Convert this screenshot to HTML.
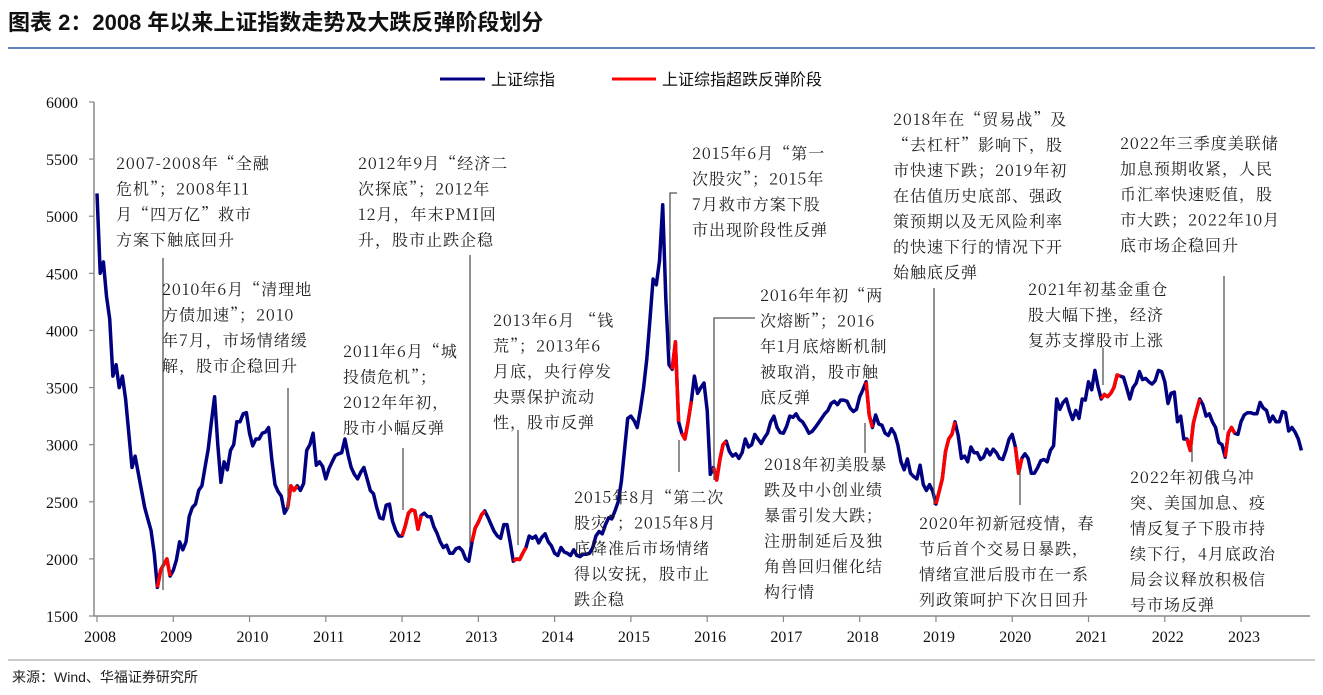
<!DOCTYPE html>
<html><head><meta charset="utf-8">
<style>
html,body{margin:0;padding:0;background:#fff;}
body{width:1323px;height:695px;overflow:hidden;position:relative;font-family:"Liberation Serif","Noto Serif CJK SC",serif;}
svg{position:absolute;left:0;top:0;}
</style></head>
<body>
<svg id="chart" width="1323" height="695">
  <text x="8" y="30" font-size="22" font-weight="bold" fill="#111" font-family="'Liberation Sans','Noto Sans CJK SC',sans-serif">图表 2：2008 年以来上证指数走势及大跌反弹阶段划分</text>
  <line x1="8" y1="48" x2="1315" y2="48" stroke="#2a5caa" stroke-width="1.5"/>
  <g font-family="'Liberation Sans','Noto Sans CJK SC',sans-serif" font-size="16" fill="#111">
    <line x1="440" y1="79" x2="485" y2="79" stroke="#000080" stroke-width="3"/>
    <text x="491" y="85">上证综指</text>
    <line x1="612" y1="79" x2="656" y2="79" stroke="#ff0000" stroke-width="3"/>
    <text x="662" y="85">上证综指超跌反弹阶段</text>
  </g>
  <g id="axes"></g>
  <g id="series"></g>
  <g id="annot" font-size="16" fill="#222" font-family="'Noto Serif CJK SC','Liberation Serif',serif" letter-spacing="1"></g>
  <line x1="8" y1="660" x2="1315" y2="660" stroke="#999" stroke-width="1"/>
  <text x="12" y="682" font-size="14" fill="#222" font-family="'Liberation Sans','Noto Sans CJK SC',sans-serif">来源：Wind、华福证券研究所</text>
</svg>
<script>
const startYear = 2008;
const stepPerYear = 24;
const yTicks = [1500,2000,2500,3000,3500,4000,4500,5000,5500,6000];
const xYears = [2008,2009,2010,2011,2012,2013,2014,2015,2016,2017,2018,2019,2020,2021,2022,2023];
const values = [
5200,4500,4600,4300,4100,3600,3700,3500,3600,3400,3100,2800,2900,2750,2600,2450,2350,2250,2050,1750,1900,1950,2000,1850,
1900,1990,2150,2080,2150,2370,2450,2480,2600,2640,2800,2960,3200,3420,3000,2670,2850,2780,2950,3000,3200,3200,3270,3280,
3100,2990,3050,3050,3100,3110,3150,2870,2650,2590,2550,2400,2450,2640,2600,2640,2600,2660,2950,3000,3100,2820,2850,2810,
2700,2790,2850,2905,2920,2930,3050,2910,2800,2740,2700,2760,2800,2700,2600,2570,2450,2360,2350,2470,2480,2330,2250,2200,
2200,2290,2400,2430,2420,2260,2380,2400,2370,2370,2280,2225,2150,2100,2120,2050,2050,2090,2100,2070,2000,1980,2150,2270,
2320,2385,2420,2365,2300,2240,2200,2180,2300,2300,2150,1980,2000,1995,2050,2100,2200,2180,2200,2140,2190,2220,2150,2115,
2050,2030,2100,2060,2050,2030,2080,2030,2020,2040,2040,2050,2100,2200,2240,2220,2300,2360,2350,2420,2500,2680,2950,3230,
3250,3210,3150,3310,3500,3750,4100,4450,4400,4610,5100,4280,3700,3660,3900,3200,3100,3050,3200,3380,3600,3450,3500,3540,
3300,2740,2800,2690,2870,3000,3030,2940,2900,2920,2880,2930,3050,2980,3000,3090,3050,3010,3060,3100,3200,3250,3150,3105,
3100,3160,3250,3240,3270,3220,3200,3155,3100,3115,3150,3190,3230,3270,3300,3360,3380,3350,3390,3390,3380,3320,3290,3310,
3420,3480,3550,3260,3150,3260,3180,3170,3100,3080,3140,3095,3000,2850,2780,2875,2750,2720,2700,2820,2650,2600,2650,2590,
2480,2590,2700,2940,3050,3090,3200,3080,2880,2900,2850,2980,2930,2930,2870,2890,2960,2910,2960,2930,2880,2870,2950,3050,
3090,2980,2750,2880,2920,2880,2750,2750,2800,2860,2870,2850,2950,2990,3400,3310,3370,3400,3300,3220,3300,3230,3400,3390,
3550,3480,3650,3510,3400,3440,3420,3450,3500,3610,3600,3590,3500,3400,3500,3540,3640,3570,3580,3550,3530,3560,3650,3640,
3550,3360,3450,3460,3200,3250,3050,3050,2950,3190,3300,3400,3350,3250,3270,3200,3150,3020,3000,2890,3100,3150,3100,3090,
3200,3260,3280,3280,3270,3270,3370,3320,3300,3200,3250,3200,3200,3290,3280,3120,3150,3110,3050,2950
];
const reboundStarts = [2008.80,2010.50,2012.02,2012.90,2013.46,2015.55,2015.65,2016.08,2018.10,2019.00,2020.05,2021.18,2022.28,2022.80];
const reboundEnds   = [2008.96,2010.62,2012.25,2013.10,2013.64,2015.62,2015.80,2016.25,2018.16,2019.25,2020.12,2021.40,2022.45,2022.90];

const NS = "http://www.w3.org/2000/svg";
const X0 = 97, PX_PER_YEAR = 76.27, Y_TOP = 102, Y_BOT = 616;
function xScale(t){ return X0 + (t - 2008) * PX_PER_YEAR; }
function yScale(v){ return Y_BOT - (v - 1500) / 4500 * (Y_BOT - Y_TOP); }
function mk(tag, attrs, parent){ const e = document.createElementNS(NS, tag); for (const k in attrs) e.setAttribute(k, attrs[k]); parent.appendChild(e); return e; }

const axes = document.getElementById('axes');
const yAxis = mk('line', {x1:94,y1:Y_TOP,x2:94,y2:Y_BOT,stroke:'#888','stroke-width':1.5}, axes);


const xAxis = mk('line', {x1:94,y1:Y_BOT,x2:1310,y2:Y_BOT,stroke:'#888','stroke-width':1.5}, axes);


yTicks.forEach(v => {
  const y = yScale(v);
  const tk = mk('line', {x1:89,y1:y,x2:94,y2:y,stroke:'#888','stroke-width':1.2}, axes);
  
  
  const lb = mk('text', {x:78,y:y+6,'text-anchor':'end','font-size':16,fill:'#111'}, axes);
  lb.textContent = v;
  
  
});
xYears.forEach(yr => {
  const x = xScale(yr);
  const tk = mk('line', {x1:x,y1:Y_BOT,x2:x,y2:Y_BOT+6,stroke:'#888','stroke-width':1.2}, axes);
  
  
  const lb = mk('text', {x:x+3,y:Y_BOT+26,'text-anchor':'middle','font-size':16,fill:'#111'}, axes);
  lb.textContent = yr;
  
  
});

const series = document.getElementById('series');
const tOf = i => startYear + i / stepPerYear;
const mainPts = values.map((v,i) => xScale(tOf(i)).toFixed(1) + ',' + yScale(v).toFixed(1)).join(' ');
const mainLine = mk('polyline', {points:mainPts, fill:'none', stroke:'#000080','stroke-width':3.5,'stroke-linejoin':'round'}, series);


reboundStarts.forEach((s, k) => {
  const e = reboundEnds[k];
  const pts = [];
  values.forEach((v,i) => { const t = tOf(i); if (t >= s - 0.5/stepPerYear && t <= e + 0.5/stepPerYear) pts.push(xScale(t).toFixed(1) + ',' + yScale(v).toFixed(1)); });
  if (pts.length < 2) {
    const i0 = Math.floor((s - startYear) * stepPerYear);
    for (let i = i0; i <= i0 + 1 && i < values.length; i++) pts.push(xScale(tOf(i)).toFixed(1) + ',' + yScale(values[i]).toFixed(1));
  }
  const pl = mk('polyline', {points:pts.join(' '), fill:'none', stroke:'#ff0000','stroke-width':3.5,'stroke-linejoin':'round'}, series);
  
  
});

const annot = document.getElementById('annot');
const leaders = [
  [[163,258],[163,590]], [[288,388],[288,510]], [[403,448],[403,510]], [[470,255],[470,545]],
  [[518,430],[518,545]], [[677,193],[670,193],[670,350]], [[679,440],[679,472]],
  [[755,318],[714,318],[714,480]], [[865,423],[865,453]], [[934,288],[934,505]],
  [[1020,470],[1020,505]], [[1103,348],[1103,385]], [[1192,447],[1192,462]], [[1224,276],[1224,430]]
];
leaders.forEach(p => {
  const l = mk('polyline', {points:p.map(q=>q.join(',')).join(' '), fill:'none', stroke:'#555','stroke-width':1.3}, annot);
  
  
});
const notes = [
  [116,163,["2007-2008年“全融","危机”；2008年11","月“四万亿”救市","方案下触底回升"]],
  [358,163,["2012年9月“经济二","次探底”；2012年","12月，年末PMI回","升，股市止跌企稳"]],
  [162,289,["2010年6月“清理地","方债加速”；2010","年7月，市场情绪缓","解，股市企稳回升"]],
  [343,351,["2011年6月“城","投债危机”；","2012年年初，","股市小幅反弹"]],
  [493,320,["2013年6月 “钱","荒”；2013年6","月底，央行停发","央票保护流动","性，股市反弹"]],
  [692,153,["2015年6月“第一","次股灾”；2015年","7月救市方案下股","市出现阶段性反弹"]],
  [574,497,["2015年8月“第二次","股灾”；2015年8月","底降准后市场情绪","得以安抚，股市止","跌企稳"]],
  [760,295,["2016年年初“两","次熔断”；2016","年1月底熔断机制","被取消，股市触","底反弹"]],
  [764,464,["2018年初美股暴","跌及中小创业绩","暴雷引发大跌；","注册制延后及独","角兽回归催化结","构行情"]],
  [893,119,["2018年在“贸易战”及","“去杠杆”影响下，股","市快速下跌；2019年初","在估值历史底部、强政","策预期以及无风险利率","的快速下行的情况下开","始触底反弹"]],
  [1120,143,["2022年三季度美联储","加息预期收紧，人民","币汇率快速贬值，股","市大跌；2022年10月","底市场企稳回升"]],
  [1028,289,["2021年初基金重仓","股大幅下挫，经济","复苏支撑股市上涨"]],
  [919,523,["2020年初新冠疫情，春","节后首个交易日暴跌，","情绪宣泄后股市在一系","列政策呵护下次日回升"]],
  [1130,477,["2022年初俄乌冲","突、美国加息、疫","情反复子下股市持","续下行，4月底政治","局会议释放积极信","号市场反弹"]]
];
notes.forEach(n => {
  const t = mk('text', {x:n[0], y:n[1]+6}, annot);
  
  
  n[2].forEach((line, i) => {
    const s = mk('tspan', {x:n[0], dy: i ? 25.5 : 0}, t);
    s.textContent = line;
  });
});
</script>
</body></html>
